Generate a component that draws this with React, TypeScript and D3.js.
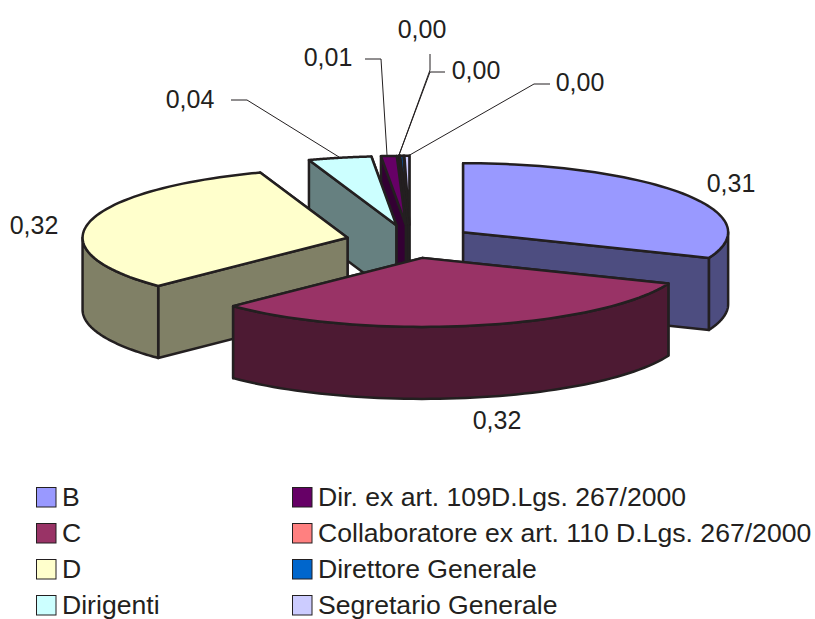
import React from "react";
import * as d3 from "d3";

const sliceNames = [
  "B",
  "C",
  "D",
  "Dirigenti",
  "Dir. ex art. 109D.Lgs. 267/2000",
  "Collaboratore ex art. 110 D.Lgs. 267/2000",
  "Direttore Generale",
  "Segretario Generale",
];
const sliceValues = [0.311, 0.316, 0.32, 0.0385, 0.0095, 0.0005, 0.002, 0.003];
const sliceColors = ["#9999ff", "#993366", "#ffffcc", "#ccffff", "#660066", "#ff8080", "#0066cc", "#ccccff"];
// back to front
const drawOrder = [7, 6, 5, 4, 3, 0, 2, 1];

const width = 815;
const height = 619;
const centerX = 410;
const centerY = 241.5;
const radiusX = 265;
const radiusY = 69;
const depth = 72;
const explode = 0.242;
const ink = "#231f20";
const fontFamily = "'Liberation Sans', Arial, sans-serif";

const labelSpots: [number, number][] = [
  [731, 183],
  [497, 420],
  [34, 225],
  [190, 99],
  [328, 57],
  [476, 70],
  [422, 29],
  [580, 82],
];
const leaders: (null | [number, number][])[] = [
  null,
  null,
  null,
  [[231, 100], [247, 100], [339, 157]],
  [[365, 59], [381, 59], [387, 155]],
  [[445, 72], [430, 72], [399, 155]],
  [[430, 54], [430, 70], [399, 155]],
  [[550, 84], [534, 84], [408, 156]],
];

const pie = d3.pie<number>().sort(null).value((d) => d);
const arcs = pie(sliceValues);
const formatLabel = (v: number) => d3.format(".2f")(v).replace(".", ",");
const toPath = d3.line<[number, number]>();

function sliceShapes(i: number) {
  const { startAngle, endAngle } = arcs[i];
  const mid = (startAngle + endAngle) / 2;
  const ax = centerX + explode * radiusX * Math.sin(mid);
  const ay = centerY - explode * radiusY * Math.cos(mid);
  const rim = (a: number, drop = 0): [number, number] => [
    ax + radiusX * Math.sin(a),
    ay - radiusY * Math.cos(a) + drop,
  ];
  const sweep = (a0: number, a1: number, drop = 0) =>
    d3.range(0, 61).map((k) => rim(a0 + ((a1 - a0) * k) / 60, drop));

  const top = toPath([[ax, ay], ...sweep(startAngle, endAngle)]) + "Z";
  const sideWall = (a: number) => ({
    y: ay - radiusY * Math.cos(a) / 2,
    d: toPath([[ax, ay], rim(a), rim(a, depth), [ax, ay + depth]]) + "Z",
  });
  const walls = [sideWall(startAngle), sideWall(endAngle)].sort((p, q) => p.y - q.y).map((w) => w.d);

  const from = Math.max(startAngle, Math.PI / 2);
  const to = Math.min(endAngle, (3 * Math.PI) / 2);
  const outer = from < to ? toPath([...sweep(from, to), ...sweep(to, from, depth)]) + "Z" : null;
  return { top, walls, outer };
}

export default function App() {
  return (
    <svg
      width={width}
      height={height}
      style={{ position: "absolute", left: 0, top: 0, display: "block", background: "#fff" }}
      fontFamily={fontFamily}
    >
      {drawOrder.map((i) => {
        const s = sliceShapes(i);
        const base = d3.rgb(sliceColors[i]);
        const wall = d3.rgb(base.r / 2, base.g / 2, base.b / 2).formatHex();
        return (
          <g key={i} stroke={ink} strokeWidth={2.5} strokeLinejoin="round">
            {s.walls.map((d, k) => (
              <path key={k} d={d} fill={wall} />
            ))}
            {s.outer && <path d={s.outer} fill={wall} />}
            <path d={s.top} fill={sliceColors[i]} />
          </g>
        );
      })}

      {leaders.map((pts, i) =>
        pts ? <path key={i} d={toPath(pts) ?? ""} fill="none" stroke={ink} strokeWidth={1} /> : null
      )}

      {sliceValues.map((v, i) => (
        <text
          key={i}
          x={labelSpots[i][0]}
          y={labelSpots[i][1]}
          textAnchor="middle"
          dominantBaseline="central"
          fontSize={25}
          fill={ink}
        >
          {formatLabel(v)}
        </text>
      ))}

      {sliceNames.map((name, i) => {
        const col = i < 4 ? 0 : 1;
        const row = i % 4;
        const x = col === 0 ? 36 : 292;
        const y = 487 + row * 36;
        return (
          <g key={name}>
            <rect x={x + 0.5} y={y + 0.5} width={19.5} height={19.5} fill={sliceColors[i]} stroke={ink} strokeWidth={1} />
            <text x={x + 26} y={y + 10} dominantBaseline="central" fontSize={26.6} fill={ink}>
              {name}
            </text>
          </g>
        );
      })}
    </svg>
  );
}
